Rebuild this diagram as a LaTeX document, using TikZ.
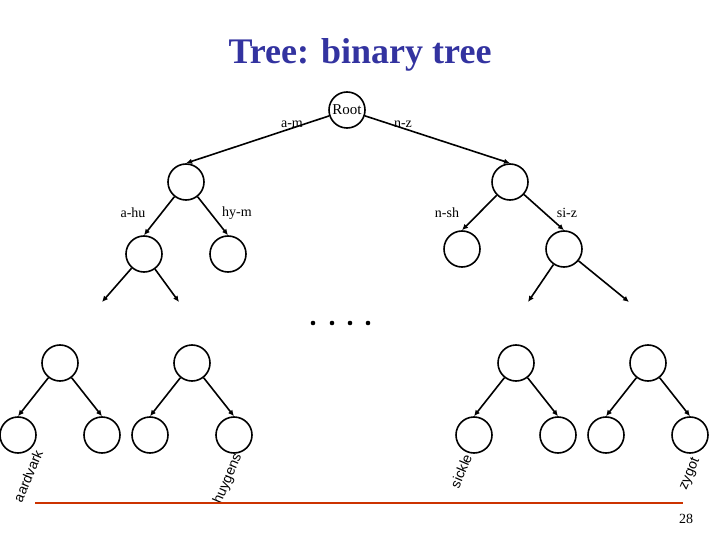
\documentclass[tikz,border=0pt]{standalone}
\usepackage{fontspec}
\setmainfont{Liberation Serif}
\setsansfont{Liberation Sans}
\usetikzlibrary{arrows.meta}
\definecolor{titleblue}{RGB}{51,51,160}
\definecolor{rulered}{RGB}{204,51,0}
\tikzset{
    knot/.style={circle,draw,line width=1.6pt,minimum size=36pt,inner sep=0pt},
    edge/.style={line width=1.6pt,-{Latex[length=6pt,width=5.5pt]}},
    keyrange/.style={font=\fontsize{14}{16}\selectfont},
    leaf/.style={font=\sffamily\fontsize{14}{16}\selectfont,rotate=67},
}
\newcommand\SubTree[2]{%
    \node[knot] (#1) at (#2,363) {};
    \node[knot] (#1l) at (#2-42,435) {};
    \node[knot] (#1r) at (#2+42,435) {};
    \draw[edge] (#1) -- (#1l.north);
    \draw[edge] (#1) -- (#1r.north);
}

\begin{document}
\begin{tikzpicture}[x=1pt,y=-1pt]
    \useasboundingbox (0,0) rectangle (720,540);
    \node[text=titleblue,font=\bfseries\fontsize{36}{40}\selectfont] (title) at (360,55) {Tree: binary tree};
    % top of the tree
    \node[knot,font=\fontsize{15}{17}\selectfont] (root) at (347,110) {Root};
    \node[knot] (am) at (186,182) {};
    \node[knot] (nz) at (510,182) {};
    \draw[edge] (root) -- (am.north);
    \draw[edge] (root) -- (nz.north);
    \node[keyrange] (lam) at (292,124) {a-m};
    \node[keyrange] (lnz) at (403,124) {n-z};
    % second level
    \node[knot] (ahu) at (144,254) {};
    \node[knot] (hym) at (228,254) {};
    \node[knot] (nsh) at (462,249) {};
    \node[knot] (siz) at (564,249) {};
    \draw[edge] (am) -- (ahu.north);
    \draw[edge] (am) -- (hym.north);
    \draw[edge] (nz) -- (nsh.north);
    \draw[edge] (nz) -- (siz.north);
    \node[keyrange] (lahu) at (133,213) {a-hu};
    \node[keyrange] (lhym) at (237,213) {hy-m};
    \node[keyrange] (lnsh) at (447,213) {n-sh};
    \node[keyrange] (lsiz) at (567,213) {si-z};
    % open ends
    \coordinate (ahuA) at (102,302);
    \coordinate (ahuB) at (179,302);
    \coordinate (sizA) at (528,302);
    \coordinate (sizB) at (629,302);
    \draw[edge] (ahu) -- (ahuA);
    \draw[edge] (ahu) -- (ahuB);
    \draw[edge] (siz) -- (sizA);
    \draw[edge] (siz) -- (sizB);
    \foreach \x in {313,332,350,368}
        \fill (\x,323) circle (2.3pt);
    % bottom subtrees
    \SubTree{sa}{60}
    \SubTree{sb}{192}
    \SubTree{sc}{516}
    \SubTree{sd}{648}
    \node[leaf,inner sep=0pt] (aardvark) at (28,476) {aardvark};
    \node[leaf,inner sep=0pt] (huygens) at (228,479) {huygens};
    \node[leaf,inner sep=0pt] (sickle) at (461,471) {sickle};
    \node[leaf,inner sep=0pt] (zygot) at (690,474) {zygot};
    \draw[rulered,line width=2pt] (35,503) coordinate (ruleA) -- (683,503) coordinate (ruleB);
    \node[font=\fontsize{14}{16}\selectfont] (page) at (686,519) {28};
\end{tikzpicture}
\end{document}
